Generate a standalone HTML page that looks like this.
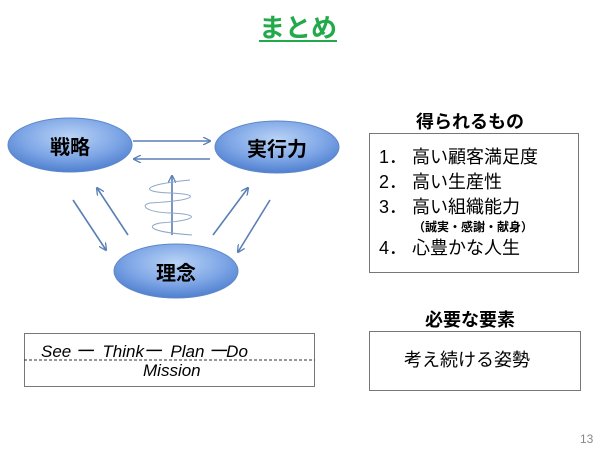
<!DOCTYPE html>
<html><head><meta charset="utf-8"><style>
body{margin:0;width:600px;height:450px;background:#fff;position:relative;overflow:hidden;font-family:"Liberation Sans","Noto Sans CJK JP",sans-serif}
.a{position:absolute;white-space:nowrap}
.c{position:absolute;text-align:center;font-size:20px;font-weight:bold;width:124px}
</style></head><body>
<div class="a" style="left:259px;top:8px;font-size:26px;font-weight:bold;color:#22aa4a;text-decoration:underline;text-underline-offset:3px">まとめ</div>
<svg class="a" style="left:0;top:0" width="600" height="450">
<defs>
<radialGradient id="g" cx="50%" cy="35%" r="65%">
<stop offset="0" stop-color="#b9d3f5"/><stop offset="0.6" stop-color="#7ea6e6"/><stop offset="1" stop-color="#4f7fcf"/>
</radialGradient>
<marker id="m" markerWidth="8" markerHeight="8" refX="7" refY="4" orient="auto" markerUnits="userSpaceOnUse"><path d="M0,0 L8,4 L0,8" fill="none" stroke="#5a7fb5" stroke-width="1.3"/></marker>
</defs>
<g fill="url(#g)" stroke="#5f87c9" stroke-width="1">
<ellipse cx="70" cy="145" rx="62" ry="27"/>
<ellipse cx="277" cy="147" rx="62" ry="26"/>
<ellipse cx="176" cy="271" rx="62" ry="27"/>
</g>
<g stroke="#5a7fb5" stroke-width="1.6" marker-end="url(#m)" fill="none">
<line x1="133" y1="141" x2="210" y2="141"/>
<line x1="210" y1="159" x2="134" y2="159"/>
<line x1="73" y1="200" x2="106" y2="250"/>
<line x1="128" y1="235" x2="97" y2="188"/>
<line x1="213" y1="235" x2="248" y2="188"/>
<line x1="270" y1="200" x2="238" y2="252"/>
<line x1="172" y1="235" x2="172" y2="176"/>
</g>
<path d="M190,180 C140,185 140,192 170,193 C200,194 200,200 150,203 C140,205 145,212 170,213 C200,214 200,220 160,223 C145,226 150,232 192,235" fill="none" stroke="#8fa7c8" stroke-width="1"/>
<rect x="24.5" y="333.5" width="290" height="53" fill="none" stroke="#777"/>
<line x1="24" y1="360" x2="315" y2="360" stroke="#333" stroke-dasharray="3,2"/>
<rect x="369.5" y="133.5" width="209" height="139" fill="none" stroke="#777"/>
<rect x="369.5" y="331.5" width="211" height="59" fill="none" stroke="#777"/>
</svg>
<div class="c" style="left:8px;top:131px">戦略</div>
<div class="c" style="left:215px;top:133px">実行力</div>
<div class="c" style="left:114px;top:257px">理念</div>
<div class="a" style="left:41px;top:337px;font-size:17px;font-style:italic">See 一&nbsp; Think一&nbsp; Plan 一Do</div>
<div class="a" style="left:143px;top:361px;font-size:17px;font-style:italic">Mission</div>
<div class="a" style="left:416px;top:108px;font-size:18px;font-weight:bold">得られるもの</div>
<div class="a" style="left:379px;top:145px;font-size:18px;line-height:25px">1．&nbsp;高い顧客満足度<br>2．&nbsp;高い生産性<br>3．&nbsp;高い組織能力</div>
<div class="a" style="left:413px;top:218px;font-size:12px;font-weight:bold">（誠実・感謝・献身）</div>
<div class="a" style="left:379px;top:234px;font-size:18px">4．&nbsp;心豊かな人生</div>
<div class="a" style="left:425px;top:306px;font-size:18px;font-weight:bold">必要な要素</div>
<div class="a" style="left:404px;top:346px;font-size:18px">考え続ける姿勢</div>
<div class="a" style="left:580px;top:432px;font-size:12px;color:#888">13</div>
</body></html>
